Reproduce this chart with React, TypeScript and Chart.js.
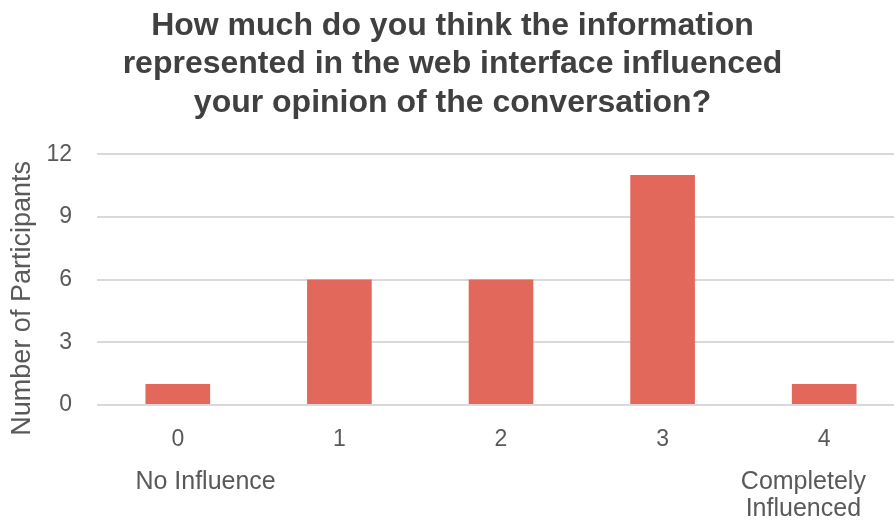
import React, { useEffect, useRef } from "react";
import { Chart, registerables } from "chart.js";

Chart.register(...registerables);

const categories = ["0", "1", "2", "3", "4"];
const descriptors: (string | string[])[] = [
  "        No Influence",
  "",
  "",
  "",
  ["Completely      ", "Influenced      "],
];
const participants = [1, 6, 6, 11, 1];
const yTicks = [0, 3, 6, 9, 12];
const titleLines = [
  "How much do you think the information",
  "represented in the web interface influenced",
  "your opinion of the conversation?",
];
const yTitle = "Number of Participants     ";

export default function App() {
  const ref = useRef<HTMLCanvasElement>(null);
  useEffect(() => {
    document.documentElement.style.overflow = "hidden";
    document.body.style.overflow = "hidden";
    const ctx = ref.current!;
    const font = "'Liberation Sans', Arial, sans-serif";
    const chart = new Chart(ctx, {
      type: "bar",
      data: {
        labels: categories,
        datasets: [
          {
            data: participants,
            backgroundColor: "#E2685B",
            borderWidth: 0,
            barPercentage: 0.5,
            categoryPercentage: 0.8,
            xAxisID: "x",
          },
        ],
      },
      options: {
        animation: false,
        responsive: false,
        maintainAspectRatio: false,
        layout: { padding: 0 },
        plugins: {
          legend: { display: false },
          tooltip: { enabled: false },
          title: {
            display: true,
            text: titleLines,
            color: "#404040",
            font: { family: font, size: 32, weight: "bold", lineHeight: 1.2 },
            padding: { top: 7, bottom: 32 },
          },
        },
        scales: {
          x: {
            type: "category",
            position: "bottom",
            offset: true,
            grid: { display: false, drawTicks: false },
            border: { display: false },
            afterFit: (s: any) => {
              s.paddingLeft = 0;
              s.paddingRight = 0;
              s.height = 49;
            },
            ticks: {
              color: "#595959",
              font: { family: font, size: 23, lineHeight: 1.2 },
              padding: 21,
              maxRotation: 0,
              autoSkip: false,
            },
          },
          x2: {
            type: "category",
            position: "bottom",
            offset: true,
            labels: descriptors as any,
            grid: { display: false, drawTicks: false },
            border: { display: false },
            afterFit: (s: any) => {
              s.paddingLeft = 0;
              s.paddingRight = 0;
              s.height = 71;
            },
            ticks: {
              color: "#595959",
              font: { family: font, size: 25, lineHeight: 1.1 },
              padding: 14,
              maxRotation: 0,
              autoSkip: false,
            },
          },
          y: {
            min: 0,
            max: 12,
            afterBuildTicks: (scale: any) => {
              scale.ticks = yTicks.map((v) => ({ value: v }));
            },
            afterFit: (scale: any) => {
              scale.width = 97;
            },
            grid: { color: "#D9D9D9", lineWidth: 2, drawTicks: false },
            border: { display: false },
            ticks: {
              color: "#595959",
              font: { family: font, size: 23 },
              padding: 25,
            },
            title: {
              display: true,
              text: yTitle,
              color: "#595959",
              font: { family: font, size: 27, lineHeight: 1.2 },
              padding: { top: 6, bottom: 0 },
            },
          },
        },
      },
    } as any);
    return () => chart.destroy();
  }, []);
  return (
    <div style={{ position: "fixed", left: 0, top: 0, width: 905, height: 525, background: "#fff" }}>
      <canvas ref={ref} width={905} height={525} />
    </div>
  );
}
